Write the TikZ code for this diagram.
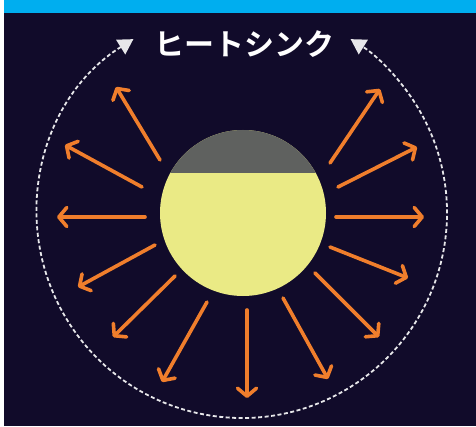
\documentclass[tikz,border=0pt]{standalone}
\usepackage{fontspec}
\newfontfamily\jpfont{Noto Sans CJK JP Bold}
\usepackage{tikz}
\usetikzlibrary{arrows.meta}
\definecolor{nightbg}{HTML}{110B2A}
\definecolor{topbar}{HTML}{00AEEF}
\definecolor{rayorange}{HTML}{F07E2C}
\definecolor{sunyellow}{HTML}{EAEA85}
\definecolor{capgray}{HTML}{5F615F}
\tikzset{
  ray/.style={rayorange, line width=3.6pt, line cap=round,
    -{Straight Barb[round, length=8pt, width=19pt]}},
  flow/.style={white!90!nightbg, line width=1.8pt, dash pattern=on 4pt off 2.5pt,
    {Triangle[length=15pt, width=17pt]}-{Triangle[length=15pt, width=17pt]}}
}

\begin{document}
\begin{tikzpicture}[x=1pt, y=1pt]
  \useasboundingbox (0,0) rectangle (476,426);
  \fill[white] (0,0) rectangle (476,426);
  \fill[nightbg] (4,0) rectangle (476,426);
  \fill[topbar] (4,413) rectangle (476,426);
  % sun with shaded cap
  \fill[sunyellow] (243,213) circle (83);
  \begin{scope}
    \clip (243,213) circle (83);
    \fill[capgray] (150,253) rectangle (340,300);
  \end{scope}
  % heat rays
  \foreach \sx/\sy/\ex/\ey in {160/266/116/339, 142/239/65/281, 145/209/57/209,
      155/181/78/139, 175/150/113/89, 207/124/162/44, 247/116/247/28,
      283/128/328/47, 315/153/379/89, 330/179/408/148, 336/209/424/209,
      338/239/417/279, 330/263/380/337}
    { \draw[ray] (\sx,\sy) -- (\ex,\ey); }
  % circulation around the sink
  \draw[flow] (242,213) ++(122:205) arc (122:418:205);
  \node[text=white, font=\jpfont\fontsize{30}{30}\selectfont] (title) at (244,382) {ヒートシンク};
\end{tikzpicture}
\end{document}
